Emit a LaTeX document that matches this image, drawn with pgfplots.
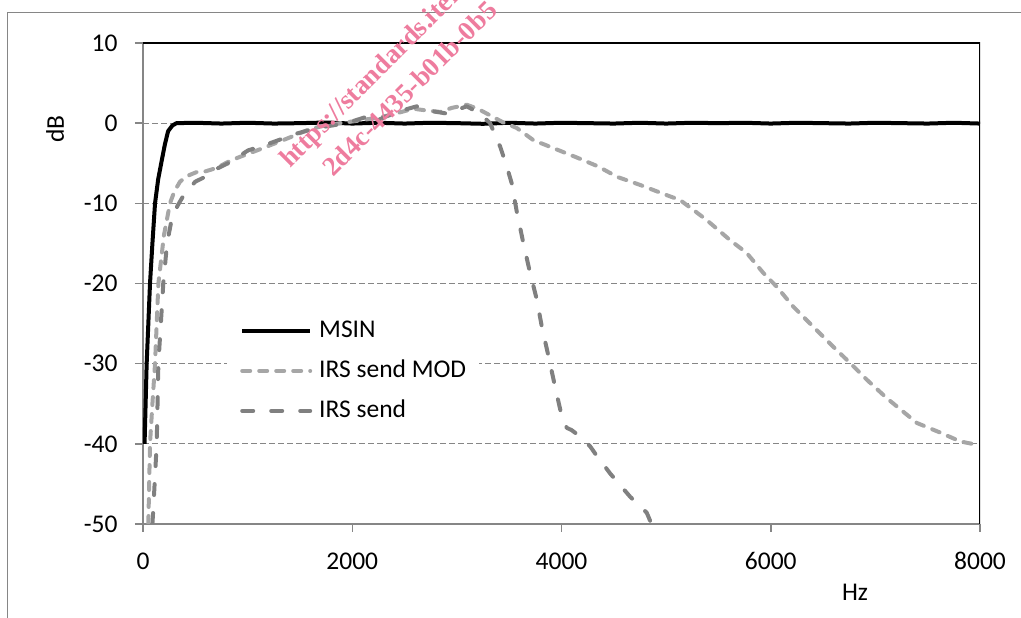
\documentclass[border=0pt]{standalone}
\usepackage{fontspec}
\setmainfont{Carlito}
\newfontfamily\wmfont{Liberation Serif}
\usepackage{pgfplots}
\pgfplotsset{compat=1.18}

\definecolor{axgray}{HTML}{868686}
\definecolor{lgray}{HTML}{A6A6A6}
\definecolor{dgray}{HTML}{808080}
\definecolor{wmpink}{HTML}{EE7C9E}

% MSIN
\pgfplotstableread{
hz db
15 -40
35 -30
67 -20
90 -15
115 -10
145 -7
180 -4.6
210 -2.6
240 -1.0
280 -0.3
320 0
500 0.05
750 -0.05
1000 0.05
1250 -0.05
1500 0
1750 0.08
2000 -0.05
2250 0.05
2500 -0.05
2750 0.05
3000 0
3250 -0.08
3500 0.05
3750 -0.05
4000 0.05
4250 0
4500 -0.05
4750 0.05
5000 -0.05
5250 0.05
5500 0
5750 0.05
6000 -0.05
6250 0.05
6500 0
6750 -0.05
7000 0.05
7250 0
7500 -0.05
7750 0.05
8000 -0.05
}\msin

% IRS send MOD
\pgfplotstableread{
hz db
51 -50
67 -40
90 -35
115 -30
147 -20
200 -14
258 -10
300 -8.5
354 -7.3
420 -6.6
513 -6.1
600 -6.0
700 -5.6
832 -4.7
927 -4.2
1050 -3.6
1246 -2.6
1400 -1.8
1565 -0.9
1700 -0.4
1883 0
2050 0.3
2200 0.6
2361 1.0
2582 1.8
2700 1.6
2840 1.4
2950 1.9
3094 2.3
3200 1.8
3285 1.2
3442 0.1
3572 -0.6
3729 -2.1
3900 -3.0
4149 -4.3
4350 -5.4
4532 -6.7
4750 -7.7
5010 -9.0
5134 -9.6
5258 -10.8
5389 -12.1
5612 -14.6
5771 -16.2
5930 -18.7
6057 -20.4
6216 -22.9
6407 -25.4
6598 -27.9
6757 -29.9
6918 -32.0
7109 -34.3
7397 -37.4
7620 -38.6
7811 -39.7
8000 -40.2
}\irsmod

% IRS send
\pgfplotstableread{
hz db
90 -50
99 -48
131 -40
147 -30
194 -20
230 -15
274 -12
330 -10.3
402 -8.7
500 -7.3
593 -6.7
688 -5.8
813 -5.0
1004 -3.4
1214 -2.5
1469 -1.3
1660 -0.6
1947 0
2137 0.8
2199 0.1
2300 0.7
2425 1.4
2616 2.1
2712 1.6
2903 1.2
3094 2.1
3222 1.2
3317 0
3413 -2.9
3477 -5.4
3524 -7.5
3572 -11.0
3636 -15
3700 -18.7
3764 -22
3812 -25.4
3876 -29.1
3939 -32.9
4003 -36.6
4050 -38
4098 -38.3
4178 -39.1
4273 -40.3
4321 -41.2
4465 -43.7
4656 -46.6
4815 -48.6
4860 -50
}\irs

\begin{document}
\begin{tikzpicture}[x=1pt,y=1pt]
\useasboundingbox (0,0) rectangle (1021,618);
\draw[axgray, line width=1.5pt] (7.5,-10) -- (7.5,605.5) -- (1040,605.5);
\begin{axis}[
  at={(143pt,94pt)}, anchor=south west,
  width=837pt, height=481pt, scale only axis,
  xmin=0, xmax=8000, ymin=-50, ymax=10,
  axis x line*=bottom, axis y line*=left,
  axis line style={axgray, line width=1.5pt},
  xtick={0,2000,4000,6000,8000}, ytick={-50,-40,-30,-20,-10,0,10},
  tick align=outside, major tick length=8pt,
  tick style={axgray, line width=1.5pt},
  ymajorgrids,
  grid style={axgray, line width=1.2pt, dash pattern=on 6pt off 3pt},
  /pgf/number format/assume math mode=true,
  scaled x ticks=false,
  x tick label style={/pgf/number format/1000 sep={}, yshift=-17pt},
  y tick label style={xshift=-14pt},
  tick label style={font=\fontsize{25.5}{30}\selectfont, text=black},
  xlabel={Hz}, ylabel={dB},
  label style={font=\fontsize{25.5}{30}\selectfont},
  xlabel style={at={(axis description cs:0.8507,-0.1414)}, anchor=center},
  ylabel style={at={(axis description cs:-0.1051,0.821)}, anchor=center},
  legend style={at={(axis cs:803,-23.7)}, anchor=north west, draw=none,
    fill=white, inner xsep=13pt, inner ysep=5pt,
    font=\fontsize{25.5}{30}\selectfont, row sep=15pt,
    nodes={inner sep=0pt, text height=19pt, text depth=6pt},
    /tikz/every odd column/.append style={column sep=7pt}},
  legend cell align=left,
  legend image code/.code={\draw[#1] (-3pt,0pt) -- (65pt,0pt);},
]
\addplot[black, line width=4pt, line join=round] table[x=hz, y=db] {\msin};
\addlegendentry{MSIN}
\addplot[lgray, line width=4pt, line cap=round, line join=round, dash pattern=on 8pt off 9pt] table[x=hz, y=db] {\irsmod};
\addlegendentry{IRS send MOD}
\addplot[dgray, line width=4pt, line cap=round, line join=round, dash pattern=on 11pt off 18pt] table[x=hz, y=db] {\irs};
\addlegendentry{IRS send}
\draw[black, line width=1.3pt] (rel axis cs:0,1) -- (rel axis cs:1,1) -- (rel axis cs:1,0);
\end{axis}
\node[rotate=45, anchor=base west, inner sep=0pt, text=wmpink, font=\wmfont\bfseries\fontsize{27}{27}\selectfont] at (290,449) {https://standards.iteh};
\node[rotate=45, anchor=base west, inner sep=0pt, text=wmpink, font=\wmfont\bfseries\fontsize{27}{27}\selectfont] at (333,440) {2d4c-4435-b01b-0b5};
\end{tikzpicture}
\end{document}
